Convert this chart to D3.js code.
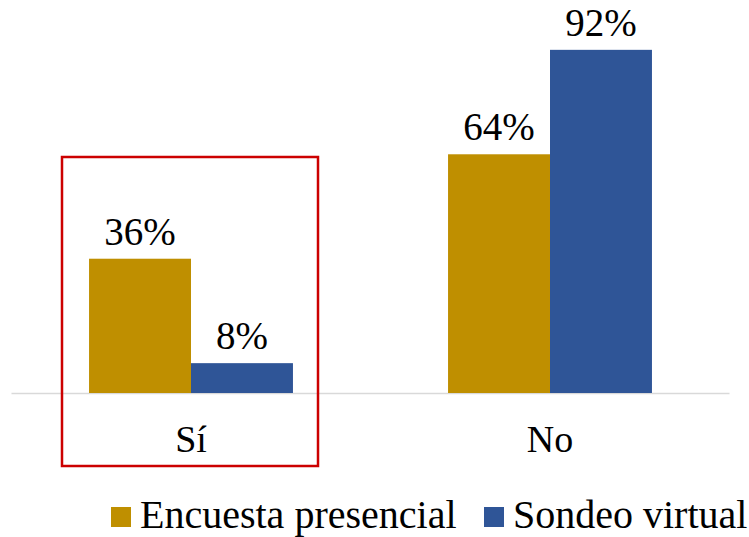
<!DOCTYPE html>
<html>
<head>
<meta charset="utf-8">
<script src="https://cdn.jsdelivr.net/npm/d3@7"></script>
<style>
  body { margin: 0; background: #fff; }
  text { font-family: "Liberation Serif", "Times New Roman", serif; fill: #000; }
</style>
</head>
<body>
<script>
// Data
const categories = ["Sí", "No"];
const seriesNames = ["Encuesta presencial", "Sondeo virtual"];
const encuesta = [36, 64];
const sondeo = [8, 92];
const colors = ["#BF8F00", "#2F5597"];

const width = 749, height = 537;
const baseY = 393;

const svg = d3.select("body").append("svg")
    .attr("width", width)
    .attr("height", height);

// Scales
const x = d3.scaleBand()
    .domain(categories)
    .range([11.5, 729.5])
    .paddingInner(0.432)
    .paddingOuter(0.216);

const xs = d3.scaleBand()
    .domain(seriesNames)
    .range([0, x.bandwidth()]);

const y = d3.scaleLinear()
    .domain([0, 100])
    .range([baseY, 20]);

// Baseline
svg.append("line")
    .attr("x1", 11.5).attr("x2", 729.5)
    .attr("y1", baseY + 0.5).attr("y2", baseY + 0.5)
    .attr("stroke", "#d9d9d9")
    .attr("stroke-width", 1.5);

const rows = categories.map((c, i) => ({ cat: c, vals: [encuesta[i], sondeo[i]] }));

const groups = svg.selectAll(".grp")
    .data(rows)
    .enter().append("g")
    .attr("class", "grp")
    .attr("transform", d => `translate(${x(d.cat)},0)`);

groups.selectAll("rect")
    .data(d => d.vals.map((v, j) => ({ name: seriesNames[j], v, j })))
    .enter().append("rect")
    .attr("x", d => xs(d.name))
    .attr("y", d => y(d.v))
    .attr("width", xs.bandwidth())
    .attr("height", d => baseY - y(d.v))
    .attr("fill", d => colors[d.j]);

groups.selectAll(".lbl")
    .data(d => d.vals.map((v, j) => ({ name: seriesNames[j], v, j })))
    .enter().append("text")
    .attr("class", "lbl")
    .attr("x", d => xs(d.name) + xs.bandwidth() / 2)
    .attr("y", d => y(d.v) - 14)
    .attr("text-anchor", "middle")
    .style("font-size", "39px")
    .text(d => d.v + "%");

// Category labels
svg.selectAll(".cat")
    .data(categories)
    .enter().append("text")
    .attr("class", "cat")
    .attr("x", d => x(d) + x.bandwidth() / 2)
    .attr("y", 452)
    .attr("text-anchor", "middle")
    .style("font-size", "38px")
    .text(d => d);

// Highlight box around "Sí"
svg.append("rect")
    .attr("x", 62).attr("y", 157)
    .attr("width", 256).attr("height", 309)
    .attr("fill", "none")
    .attr("stroke", "#CC0000")
    .attr("stroke-width", 2.5);

// Legend
const legendX = [111, 484];
const legend = svg.selectAll(".leg")
    .data(seriesNames)
    .enter().append("g")
    .attr("class", "leg")
    .attr("transform", (d, i) => `translate(${legendX[i]},507)`);

legend.append("rect")
    .attr("width", 20).attr("height", 20)
    .attr("fill", (d, i) => colors[i]);

legend.append("text")
    .attr("x", 29).attr("y", 21)
    .style("font-size", "40px")
    .text(d => d);
</script>
</body>
</html>
